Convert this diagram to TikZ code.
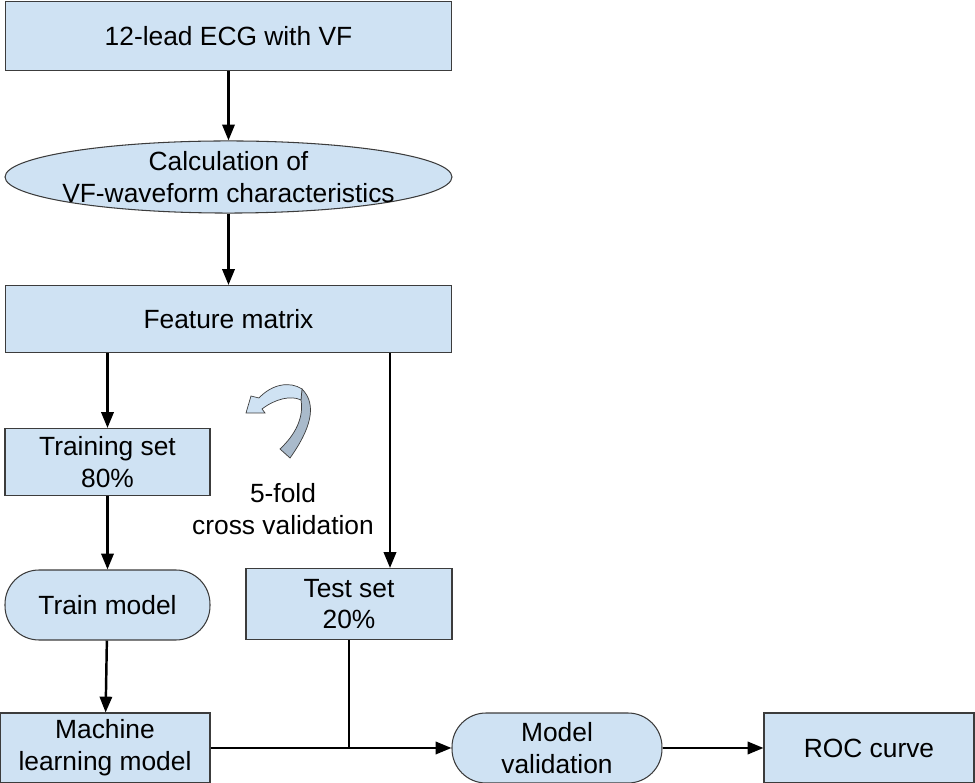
\documentclass[tikz,border=0pt]{standalone}
\usepackage{fontspec}
\setmainfont{Liberation Sans}
\usetikzlibrary{shapes.geometric}
\usetikzlibrary{arrows.meta}

\definecolor{boxfill}{HTML}{CFE2F3}
\definecolor{boxline}{HTML}{3C3C3C}
\definecolor{bendback}{HTML}{A9BACB}

\begin{document}
\begin{tikzpicture}[x=0.02cm,y=-0.02cm,
    font=\fontsize{15}{18}\selectfont,
    box/.style={draw=boxline, fill=boxfill, line width=0.6pt, align=center, inner sep=0pt, minimum height=1.38cm},
    oval/.style={box, ellipse, inner xsep=-0.25cm},
    pill/.style={box, rounded corners=0.68cm},
    arr/.style={line width=1.4pt, -{Triangle[length=9pt,width=7pt]}},
    link/.style={line width=1.4pt}]
    \useasboundingbox (0,0) rectangle (975,783);

    \node[box, minimum width=8.94cm] (ecg) at (228.5,36) {12-lead ECG with VF};
    \node[oval, minimum width=8.94cm, minimum height=1.4cm] (calc) at (228.5,177) {Calculation of\\VF-waveform characteristics};
    \node[box, minimum width=8.94cm, minimum height=1.34cm] (feat) at (228.5,319) {Feature matrix};

    \node[box, minimum width=4.1cm, minimum height=1.34cm] (train) at (107.5,462) {Training set\\80\%};
    \node[box, minimum width=4.12cm, minimum height=1.42cm] (test) at (349,604) {Test set\\20\%};
    \node[pill, minimum width=4.1cm, minimum height=1.4cm] (fit) at (107.5,605) {Train model};

    \node[box, minimum width=4.2cm, minimum height=1.4cm] (mlm) at (105,748) {Machine\\learning model};
    \node[pill, minimum width=4.2cm, minimum height=1.4cm] (val) at (557,748) {Model\\validation};
    \node[box, minimum width=4.2cm, minimum height=1.4cm] (roc) at (869,748) {ROC curve};

    \node[align=center] (cv) at (283,509) {5-fold\\cross validation};

    % cross validation symbol
    \filldraw[fill=bendback, draw=boxline, line width=0.4pt]
        (290,458) .. controls (310,430) and (318,405) .. (302,389)
        -- (301,400) .. controls (304,418) and (295,435) .. (280,449) -- cycle;
    \filldraw[fill=boxfill, draw=boxline, line width=0.4pt]
        (302,389) .. controls (290,381) and (272,384) .. (259,398)
        -- (251,396) -- (246,413) -- (265,413) -- (262,409)
        .. controls (275,399) and (291,395) .. (301,400) -- cycle;

    \coordinate (tst) at (390,568);

    \draw[arr] (ecg) -- (calc);
    \draw[arr] (calc) -- (feat);
    \draw[arr] (feat.south -| train.north) -- (train.north);
    \draw[arr] (feat.south -| tst) -- (tst);
    \draw[arr] (train) -- (fit);
    \draw[arr] (fit) -- (mlm);
    \draw[arr] (mlm.east) -- (val.west);
    \draw[link] (test.south) -- (test.south |- mlm.east);
    \draw[arr] (val) -- (roc);
\end{tikzpicture}
\end{document}
